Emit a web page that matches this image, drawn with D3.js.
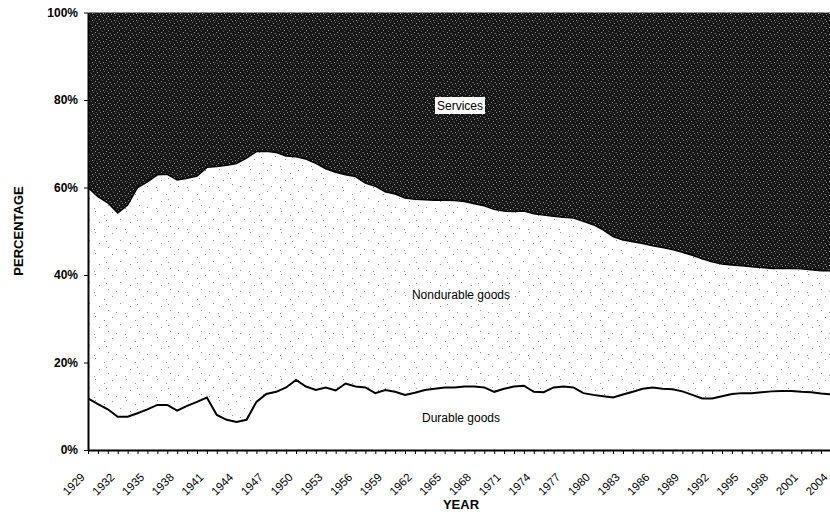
<!DOCTYPE html>
<html>
<head>
<meta charset="utf-8">
<script src="https://cdn.jsdelivr.net/npm/d3@7"></script>
<style>
  html, body { margin: 0; padding: 0; background: #fff; }
  svg { display: block; }
  text { font-family: Arial, "Liberation Sans", sans-serif; fill: #000; }
</style>
</head>
<body>
<svg id="chart" width="830" height="512"></svg>
<script>
const years = d3.range(1929, 2005);
const durable = [11.8,10.5,9.3,7.6,7.6,8.4,9.3,10.3,10.3,9.0,10.1,11.0,12.0,8.0,6.9,6.4,6.9,11.0,12.8,13.3,
  14.3,16.0,14.5,13.7,14.3,13.6,15.2,14.5,14.3,13.0,13.7,13.3,12.6,13.1,13.7,14.0,14.3,14.3,14.5,14.5,
  14.3,13.3,14.0,14.5,14.7,13.3,13.2,14.3,14.5,14.3,13.0,12.6,12.3,12.0,12.7,13.3,14.0,14.3,14.0,13.9,
  13.4,12.6,11.8,11.8,12.3,12.8,13.0,13.0,13.2,13.4,13.5,13.5,13.3,13.2,12.9,12.7];
const nondurable = [48.2,47.4,47.2,46.6,48.4,51.6,52.0,52.6,52.7,52.7,52.0,51.6,52.6,56.8,58.2,59.1,59.8,57.2,55.5,54.7,
  52.9,51.0,52.0,51.8,50.0,49.9,47.7,48.0,46.7,47.3,45.3,45.2,45.0,44.2,43.5,43.1,42.8,42.7,42.3,41.8,
  41.5,41.7,40.6,40.0,39.9,40.7,40.5,39.1,38.7,38.7,39.3,38.9,38.0,36.8,35.3,34.3,33.2,32.4,32.3,31.9,
  31.8,31.9,31.9,31.2,30.2,29.5,29.1,28.9,28.5,28.1,28.0,28.0,28.1,28.0,28.1,28.3];
const services = [40.0,42.1,43.5,45.8,44.0,40.0,38.7,37.1,37.0,38.3,37.9,37.4,35.4,35.2,34.9,34.5,33.3,31.8,31.7,32.0,
  32.8,33.0,33.5,34.5,35.7,36.5,37.1,37.5,39.0,39.7,41.0,41.5,42.4,42.7,42.8,42.9,42.9,43.0,43.2,43.7,
  44.2,45.0,45.4,45.5,45.4,46.0,46.3,46.6,46.8,47.0,47.7,48.5,49.7,51.2,52.0,52.4,52.8,53.3,53.7,54.2,
  54.8,55.5,56.3,57.0,57.5,57.7,57.9,58.1,58.3,58.5,58.5,58.5,58.6,58.8,59.0,59.0];
const seriesNames = ["Durable goods", "Nondurable goods", "Services"];
const yTicks = [0, 20, 40, 60, 80, 100];

const svg = d3.select("#chart");
const mLeft = 88, mRight = 831, mTop = 12.5, mBottom = 450;
const x = d3.scaleLinear().domain([1929, 2004]).range([mLeft, mRight]);
const y = d3.scaleLinear().domain([0, 100]).range([mBottom, mTop]);

const table = years.map((yr, i) => ({year: yr, durable: durable[i], nondurable: nondurable[i], services: services[i]}));
const stack = d3.stack().keys(["durable", "nondurable", "services"]);
const layers = stack(table);

const defs = svg.append("defs");
// dark grainy pattern for services
const pd = defs.append("pattern").attr("id", "dark").attr("patternUnits", "userSpaceOnUse")
  .attr("width", 11).attr("height", 7);
pd.append("rect").attr("width", 11).attr("height", 7).attr("fill", "#161616");
const darkSpecks = [[1,0,"#8a8a8a"],[5,1,"#6a6a6a"],[9,2,"#a0a0a0"],[3,3,"#5c5c5c"],[7,4,"#909090"],[0,5,"#707070"],[10,5,"#4c4c4c"],[4,6,"#9a9a9a"],[8,0,"#505050"],[2,2,"#3a3a3a"],[6,6,"#454545"]];
darkSpecks.forEach(s => pd.append("rect").attr("x", s[0]).attr("y", s[1]).attr("width", 1).attr("height", 1).attr("fill", s[2]));
// sparse dots for nondurable
const pn = defs.append("pattern").attr("id", "dots").attr("patternUnits", "userSpaceOnUse")
  .attr("width", 31).attr("height", 21);
pn.append("rect").attr("width", 31).attr("height", 21).attr("fill", "#fff");
const dots = [[2,1],[11,5],[19,2],[27,9],[6,12],[15,16],[23,18],[1,19],[13,10]];
dots.forEach(s => pn.append("rect").attr("x", s[0]).attr("y", s[1]).attr("width", 1).attr("height", 1).attr("fill", "#909090"));

defs.append("clipPath").attr("id", "plotclip").append("rect")
  .attr("x", mLeft).attr("y", mTop - 1).attr("width", mRight - mLeft + 2).attr("height", mBottom - mTop + 1);

const g = svg.append("g").attr("clip-path", "url(#plotclip)");
const area = d3.area().x(d => x(d.data.year)).y0(d => y(d[0])).y1(d => y(d[1]));
const fills = ["#ffffff", "url(#dots)", "url(#dark)"];
g.selectAll("path.layer").data(layers).join("path").attr("class", "layer")
  .attr("d", area).attr("fill", (d, i) => fills[i]);

const line = d3.line().x(d => x(d.data.year)).y(d => y(d[1]));
g.append("path").datum(layers[0]).attr("d", line).attr("fill", "none").attr("stroke", "#000").attr("stroke-width", 2);
g.append("path").datum(layers[1]).attr("d", line).attr("fill", "none").attr("stroke", "#000").attr("stroke-width", 1.5);

// axes
const yAxis = d3.axisLeft(y).tickValues(yTicks).tickFormat(d => d + "%").tickSize(4).tickSizeOuter(0).tickPadding(6);
const ya = svg.append("g").attr("transform", `translate(${mLeft},0)`).call(yAxis);
ya.selectAll("text").attr("font-size", 12).attr("font-family", "Arial, 'Liberation Sans', sans-serif").style("font-weight", "bold");
ya.select(".domain").attr("stroke-width", 2);

const xAxis = d3.axisBottom(x).tickValues(years).tickSize(4).tickSizeOuter(0)
  .tickFormat(d => ((d - 1929) % 3 === 0 ? String(d) : ""));
const xa = svg.append("g").attr("transform", `translate(0,${mBottom})`).call(xAxis);
xa.select(".domain").attr("stroke-width", 2);
xa.selectAll("text").attr("font-size", 11.5).attr("font-family", "Arial, 'Liberation Sans', sans-serif")
  .attr("text-anchor", "end").attr("y", 0).attr("dy", 0)
  .attr("transform", "translate(-3,28) rotate(-45)");

// axis titles
svg.append("text").attr("x", 461).attr("y", 509).attr("text-anchor", "middle")
  .attr("font-size", 13).attr("font-weight", "bold").text("YEAR");
svg.append("text").attr("transform", "translate(23,231) rotate(-90)").attr("text-anchor", "middle")
  .attr("font-size", 13).attr("font-weight", "bold").text("PERCENTAGE");

// series labels
svg.append("rect").attr("x", 435).attr("y", 97).attr("width", 50).attr("height", 17).attr("fill", "#fff");
svg.append("text").attr("x", 460).attr("y", 110).attr("text-anchor", "middle").attr("font-size", 12).text(seriesNames[2]);
svg.append("text").attr("x", 461).attr("y", 299).attr("text-anchor", "middle").attr("font-size", 12).text(seriesNames[1]);
svg.append("text").attr("x", 461).attr("y", 422).attr("text-anchor", "middle").attr("font-size", 12).text(seriesNames[0]);
</script>
</body>
</html>
